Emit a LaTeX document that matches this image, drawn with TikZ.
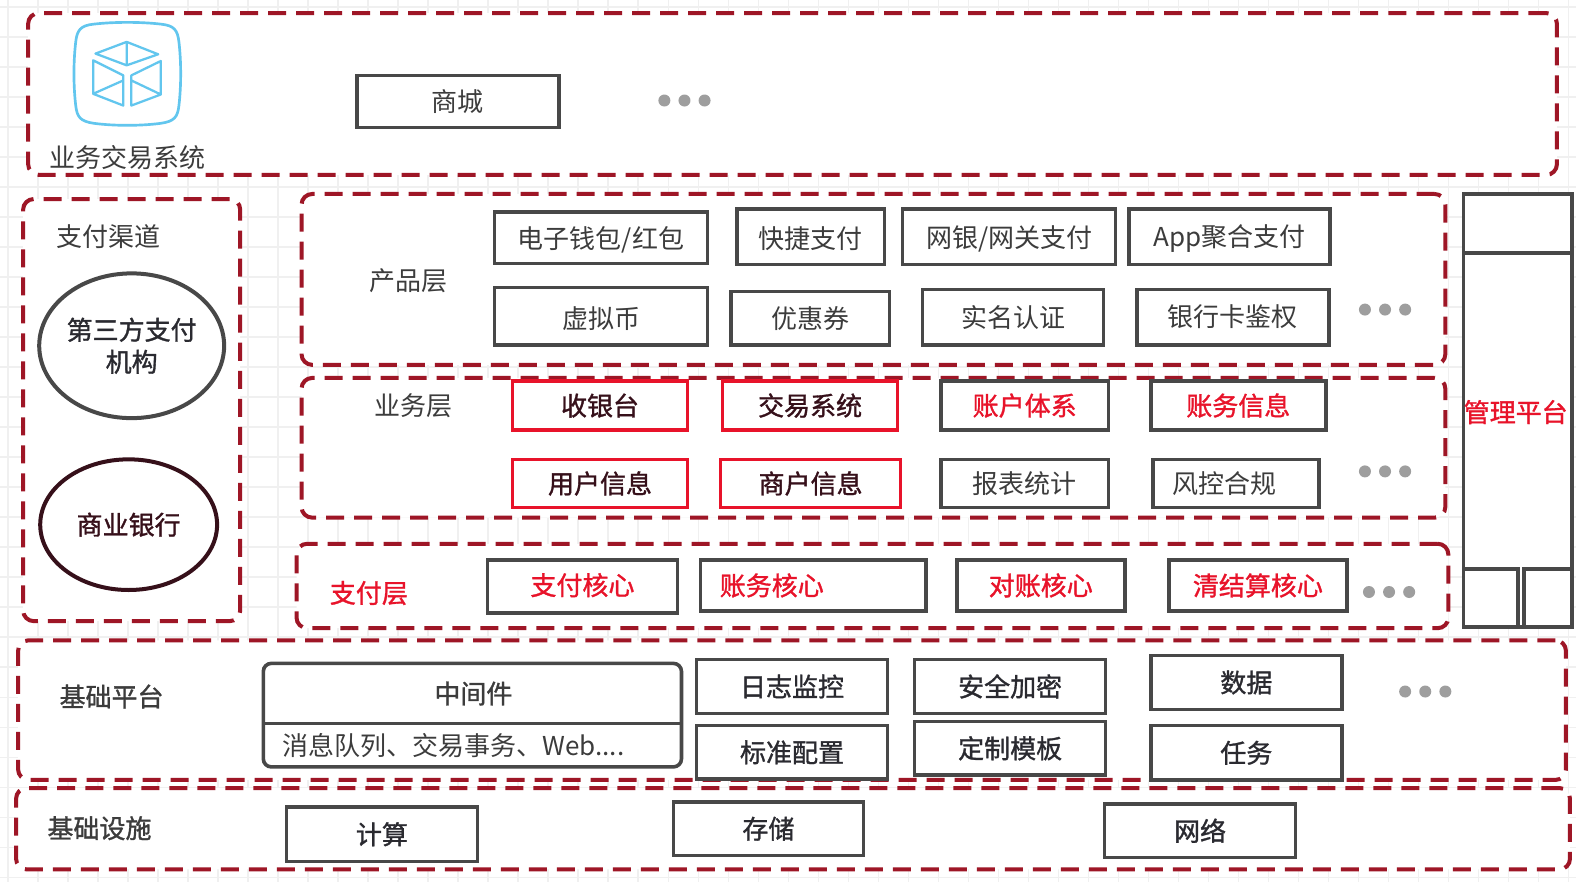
\documentclass[tikz,border=0pt]{standalone}
\usepackage{fontspec}
\setmainfont{Noto Sans CJK SC}
\newfontfamily\cjkm[FakeBold=1.2]{Noto Sans CJK SC}
\usetikzlibrary{shapes.geometric}
\definecolor{dashred}{HTML}{9E1626}
\definecolor{boxgray}{HTML}{484848}
\definecolor{txtgray}{HTML}{3C3C3C}
\definecolor{txtdark}{HTML}{2A2A30}
\definecolor{txtred}{HTML}{E8132A}
\definecolor{txtmaroon}{HTML}{36101A}
\definecolor{iconblue}{HTML}{62C6EE}
\definecolor{gridc}{HTML}{F0F0F0}
\definecolor{dotc}{HTML}{9E9E9E}
\tikzset{
  x=0.7538pt,y=-0.7538pt,
  region/.style={draw=dashred,fill=white,line width=3pt,rounded corners=8pt,dash pattern=on 13.5pt off 7.5pt,inner sep=0pt},
  boxed/.style={draw=boxgray,fill=white,line width=2.7pt,inner sep=0pt,font=\fontsize{19.5pt}{22pt}\selectfont,text=txtgray},
  boldbox/.style={boxed,font=\fontsize{19.5pt}{22pt}\selectfont\cjkm,text=txtdark},
  redtxt/.style={boldbox,text=txtred},
  redbox/.style={boldbox,draw=txtred,text=txtmaroon},
  plain/.style={inner sep=0pt,font=\fontsize{19.5pt}{22pt}\selectfont,text=txtgray},
  plainb/.style={plain,font=\fontsize{19.5pt}{22pt}\selectfont\cjkm},
  dotn/.style={circle,fill=dotc,minimum size=9pt,inner sep=0pt},
  ring/.style={ellipse,draw=boxgray,fill=white,line width=3pt,inner sep=0pt,align=center,font=\fontsize{19.5pt}{24pt}\selectfont\cjkm,text=txtdark}
}
\newcommand{\rectat}[7]{\node[#7,minimum width={(#4-#2)*0.7538pt},minimum height={(#5-#3)*0.7538pt}] (#1) at ({(#2+#4)/2},{(#3+#5)/2}) {#6};}
\newcommand{\threedots}[3]{\node[dotn] (#1a) at (#2,#3) {};\node[dotn] (#1b) at (#2+20,#3) {};\node[dotn] (#1c) at (#2+40,#3) {};}
\newcommand{\dn}[1]{\raisebox{-1.5pt}[\height][\depth]{#1}}
\begin{document}
\begin{tikzpicture}
\useasboundingbox (0,0) rectangle (1568,877.5);
\fill[white] (0,0) rectangle (1568,877.5);
\foreach \k in {0,...,52} \draw[gridc,line width=0.9pt] ({8+29.85*\k},0) -- ({8+29.85*\k},877.5);
\foreach \k in {0,...,29} \draw[gridc,line width=0.9pt] (0,{7+29.85*\k}) -- (1568,{7+29.85*\k});
% regions
\rectat{rtop}{28}{13}{1549}{174}{}{region}
\rectat{rchan}{23}{198}{239}{618}{}{region}
\rectat{rprod}{300}{193}{1438}{363}{}{region}
\rectat{rbiz}{300}{376}{1438}{515}{}{region}
\rectat{rpay}{295}{541}{1441}{625}{}{region}
\rectat{rbase}{18}{637}{1558}{776}{}{region}
\rectat{rinfra}{16}{784}{1562}{865}{}{region}
% icon
\begin{scope}[x=0.2513pt,y=-0.2513pt,iconblue,line width=1.7pt,line join=round]
\draw[line width=2pt] (280,72) .. controls (340,65) and (420,65) .. (480,72) .. controls (520,76) and (530,90) .. (534,125) .. controls (541,185) and (541,255) .. (534,315) .. controls (530,350) and (520,362) .. (480,368) .. controls (420,376) and (340,376) .. (280,368) .. controls (240,362) and (230,350) .. (226,315) .. controls (219,255) and (219,185) .. (226,125) .. controls (230,90) and (240,76) .. (280,72) -- cycle;
\draw (378,125) -- (472,162) -- (378,195) -- (285,160) -- cycle (378,125) -- (378,195);
\draw (278,180) -- (368,225) -- (368,315) -- (278,280) -- cycle (278,280) -- (368,240);
\draw (392,225) -- (480,182) -- (480,282) -- (392,315) -- cycle (392,240) -- (480,282);
\end{scope}
% labels
\node[plain] (ltop) at (127,157) {业务交易系统};
\node[plain] (lchan) at (108,235) {支付渠道};
\node[plain] (lprod) at (406,279) {产品层};
\node[plain] (lbiz) at (411,404) {业务层};
\node[plainb,text=txtred] (lpay) at (367,590) {支付层};
\node[plainb] (lbase) at (111,693) {基础平台};
\node[plainb] (linfra) at (99,824) {基础设施};
% channels
\node[ring,minimum width={184*0.7538pt},minimum height={144*0.7538pt}] (third) at (131,344) {第三方支付\\机构};
\node[ring,draw=txtmaroon,text=txtmaroon,minimum width={176*0.7538pt},minimum height={130*0.7538pt}] (bank) at (128,522) {商业银行};
% top
\rectat{mall}{355}{75}{556}{127}{商城}{boxed}
\threedots{da}{661}{100}
% product
\rectat{p1}{492}{211}{704}{262}{\dn{电子钱包/红包}}{boxed}
\rectat{p2}{733}{208}{880}{263}{\dn{快捷支付}}{boxed}
\rectat{p3}{898}{208}{1110}{263}{\dn{网银/网关支付}}{boxed}
\rectat{p4}{1123}{208}{1323}{263}{\dn{App聚合支付}}{boxed}
\rectat{p5}{492}{286}{704}{343}{\dn{虚拟币}}{boxed}
\rectat{p6}{727}{290}{885}{343}{优惠券}{boxed}
\rectat{p7}{918}{288}{1098}{343}{实名认证}{boxed}
\rectat{p8}{1131}{288}{1322}{343}{银行卡鉴权}{boxed}
\threedots{db}{1358}{308}
% business
\rectat{b1}{510}{379}{684}{428}{收银台}{redbox}
\rectat{b2}{719}{379}{893}{428}{交易系统}{redbox}
\rectat{b3}{936}{379}{1103}{428}{账户体系}{redtxt}
\rectat{b4}{1145}{379}{1319}{428}{账务信息}{redtxt}
\rectat{b5}{510}{457}{684}{505}{用户信息}{redbox}
\rectat{b6}{717}{457}{896}{505}{商户信息}{redbox}
\rectat{b7}{936}{457}{1103}{505}{报表统计}{boxed}
\rectat{b8}{1147}{457}{1312}{505}{\hspace*{-17pt}风控合规}{boxed}
\threedots{dc}{1358}{469}
% pay
\rectat{c1}{485}{557}{674}{610}{\raisebox{1pt}[\height][\depth]{支付核心}}{redtxt}
\rectat{c2}{697}{557}{921}{608}{\hspace*{-62pt}账务核心}{redtxt}
\rectat{c3}{952}{557}{1119}{608}{对账核心}{redtxt}
\rectat{c4}{1163}{557}{1340}{608}{清结算核心}{redtxt}
\threedots{dd}{1362}{589}
% management
\rectat{mg}{1456}{193}{1564}{624}{}{boxed}
\rectat{mgt}{1456}{193}{1564}{252}{}{boxed}
\rectat{mgl}{1456}{566}{1510}{624}{}{boxed}
\rectat{mgr}{1516}{566}{1564}{624}{}{boxed}
\node[plainb,text=txtred] (mgtxt) at (1508,410) {管理平台};
% base
\rectat{mw}{262}{660}{678}{763}{}{boxed,rounded corners=6pt}
\coordinate (mwl) at (262,720);
\coordinate (mwr) at (678,720);
\draw[boxgray,line width=2.7pt] (mwl) -- (mwr);
\node[plainb] (mwa) at (471,690) {中间件};
\node[plain] (mwb) at (451,742) {消息队列、交易事务、Web....};
\rectat{f1}{693}{656}{883}{710}{日志监控}{boldbox}
\rectat{f2}{693}{722}{883}{775}{标准配置}{boldbox}
\rectat{f3}{910}{656}{1100}{710}{安全加密}{boldbox}
\rectat{f4}{910}{718}{1100}{771}{定制模板}{boldbox}
\rectat{f5}{1145}{652}{1335}{706}{数据}{boldbox}
\rectat{f6}{1145}{722}{1335}{776}{任务}{boldbox}
\threedots{de}{1398}{688}
% infra
\rectat{i1}{285}{803}{475}{857}{计算}{boldbox}
\rectat{i2}{670}{798}{859}{851}{存储}{boldbox}
\rectat{i3}{1099}{800}{1289}{853}{网络}{boldbox}
\end{tikzpicture}
\end{document}
